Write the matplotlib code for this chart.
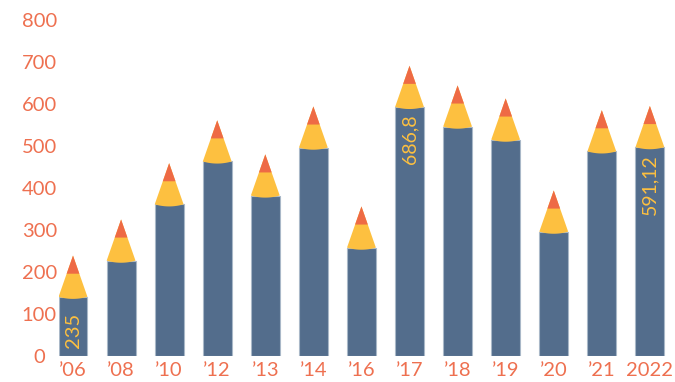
import numpy as np
import matplotlib.pyplot as plt
from matplotlib.patches import Polygon, Rectangle

plt.rcParams['font.family'] = ['Lato', 'DejaVu Sans']

years = ["’06", "’08", "’10", "’12", "’13", "’14", "’16", "’17", "’18", "’19", "’20", "’21", "2022"]
values = [235, 321, 455, 557, 476, 590, 352, 686.8, 640, 609, 390, 581, 591.12]
labels = {0: "235", 7: "686,8", 12: "591,12"}

body_col = "#536d8c"
edge_col = "#a9b8c8"
wood_col = "#fdc040"
lead_col = "#ee6a45"
text_col = "#ee7050"

tip_h = 98      # height of the sharpened cone in data units
lead_frac = 0.44
w = 0.6

fig = plt.figure(figsize=(6.75, 3.82), dpi=100)
ax = fig.add_axes([0.088, 0.068, 0.904, 0.880])

for i, v in enumerate(values):
    top = v - tip_h + 4
    left = i - w / 2
    ax.add_patch(Rectangle((left, 0), w, top, facecolor=body_col,
                           edgecolor=edge_col, linewidth=0.8, zorder=2))
    # yellow cone with a slightly curved base
    t = np.linspace(-1, 1, 30)
    arc_x = i + t * w / 2
    arc_y = top - 5 * (1 - t ** 2)
    apex = top + tip_h
    cone = np.column_stack([np.r_[arc_x, i], np.r_[arc_y, apex]])
    ax.add_patch(Polygon(cone, closed=True, facecolor=wood_col,
                         edgecolor="none", zorder=3))
    # red lead on the tip
    lb = apex - tip_h * lead_frac
    hw = w / 2 * lead_frac
    ax.add_patch(Polygon([[i - hw, lb], [i + hw, lb], [i, apex]], closed=True,
                         facecolor=lead_col, edgecolor="none", zorder=4))
    if i in labels:
        if i == 0:
            ax.text(i, 18, labels[i], rotation=90, ha="center", va="bottom",
                    color=wood_col, fontsize=14.5, zorder=5)
        else:
            ax.text(i, top - 18, labels[i], rotation=90, ha="center", va="top",
                    color=wood_col, fontsize=14, zorder=5)

ax.set_xlim(-0.283, 12.41)
ax.set_ylim(0, 800)
ax.set_yticks(range(0, 801, 100))
ax.set_xticks(range(len(years)))
ax.set_xticklabels(years)
ax.tick_params(length=0, labelsize=14.5, labelcolor=text_col)
ax.tick_params(axis='y', pad=14.5)
ax.tick_params(axis='x', pad=4)
for lab in ax.get_yticklabels():
    lab.set_horizontalalignment('center')
for s in ax.spines.values():
    s.set_visible(False)

fig.savefig("out.png", dpi=100)
